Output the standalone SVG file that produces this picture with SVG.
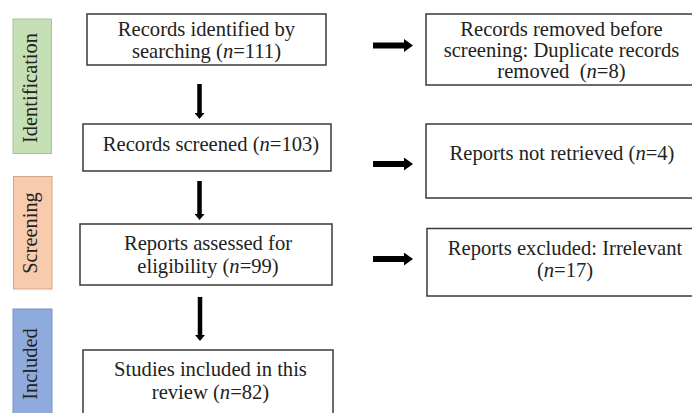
<svg xmlns="http://www.w3.org/2000/svg" width="692" height="413" viewBox="0 0 692 413">
<defs>
<style>
.box{fill:#fff;stroke:#3a3a3a;stroke-width:1.5}
.t{font-family:"Liberation Serif","Times New Roman",serif;font-size:20.6px;fill:#222;text-anchor:middle}
.i{font-style:italic}
.lab{font-family:"Liberation Serif","Times New Roman",serif;font-size:20.4px;fill:#222;text-anchor:middle}
.down{stroke:#000;stroke-width:4.5;fill:none}
.right{stroke:#000;stroke-width:6;fill:none}
</style>
<marker id="hd" markerUnits="userSpaceOnUse" markerWidth="6" markerHeight="10" refX="0" refY="5" orient="auto">
<path d="M0,0 L6,5 L0,10 z" fill="#000"/>
</marker>
<marker id="hr" markerUnits="userSpaceOnUse" markerWidth="9" markerHeight="13" refX="0" refY="6.5" orient="auto">
<path d="M0,0 L9,6.5 L0,13 z" fill="#000"/>
</marker>
</defs>
<rect width="692" height="413" fill="#fff"/>

<g id="stage-identification">
<rect x="13" y="19" width="38.5" height="134.5" fill="#c5e0b4" stroke="#a6c495" stroke-width="1"/>
<text class="lab" transform="translate(36.5,88) rotate(-90)">Identification</text>
</g>
<g id="stage-screening">
<rect x="13.5" y="176.5" width="38.5" height="112.5" fill="#f8cbad" stroke="#d6a687" stroke-width="1"/>
<text class="lab" transform="translate(36.5,233) rotate(-90)">Screening</text>
</g>
<g id="stage-included">
<rect x="13" y="309" width="39" height="110" fill="#8faadc" stroke="#7892c4" stroke-width="1"/>
<text class="lab" transform="translate(36.5,364) rotate(-90)">Included</text>
</g>

<g id="node-identified">
<rect class="box" x="87" y="14" width="239" height="51"/>
<text class="t" x="206.5" y="36">Records identified by</text>
<text class="t" x="206.5" y="58">searching (<tspan class="i">n</tspan>=111)</text>
</g>
<g id="node-screened">
<rect class="box" x="83" y="124" width="248" height="47"/>
<text class="t" x="211" y="150.5">Records screened (<tspan class="i">n</tspan>=103)</text>
</g>
<g id="node-assessed">
<rect class="box" x="80" y="224" width="252" height="61"/>
<text class="t" x="208" y="250">Reports assessed for</text>
<text class="t" x="208" y="273">eligibility (<tspan class="i">n</tspan>=99)</text>
</g>
<g id="node-included">
<rect class="box" x="83" y="350" width="250" height="70"/>
<text class="t" x="210.5" y="376">Studies included in this</text>
<text class="t" x="210.5" y="399">review (<tspan class="i">n</tspan>=82)</text>
</g>
<g id="node-removed">
<rect class="box" x="426" y="14" width="280" height="71"/>
<text class="t" x="561.5" y="35.5">Records removed before</text>
<text class="t" x="561.5" y="57">screening: Duplicate records</text>
<text class="t" x="561.5" y="78">removed&#160; (<tspan class="i">n</tspan>=8)</text>
</g>
<g id="node-notretrieved">
<rect class="box" x="426" y="124" width="280" height="74"/>
<text class="t" x="562" y="160">Reports not retrieved (<tspan class="i">n</tspan>=4)</text>
</g>
<g id="node-excluded">
<rect class="box" x="427" y="228.5" width="280" height="67.5"/>
<text class="t" x="565" y="255">Reports excluded: Irrelevant</text>
<text class="t" x="565" y="277">(<tspan class="i">n</tspan>=17)</text>
</g>

<g id="connectors">
<line class="down" x1="199.5" y1="84" x2="199.5" y2="113" marker-end="url(#hd)"/>
<line class="down" x1="199.5" y1="181" x2="199.5" y2="214" marker-end="url(#hd)"/>
<line class="down" x1="200" y1="297" x2="200" y2="335" marker-end="url(#hd)"/>
<line class="right" x1="373" y1="45.5" x2="404" y2="45.5" marker-end="url(#hr)"/>
<line class="right" x1="373" y1="164" x2="404" y2="164" marker-end="url(#hr)"/>
<line class="right" x1="373" y1="259" x2="404" y2="259" marker-end="url(#hr)"/>
</g>
</svg>
